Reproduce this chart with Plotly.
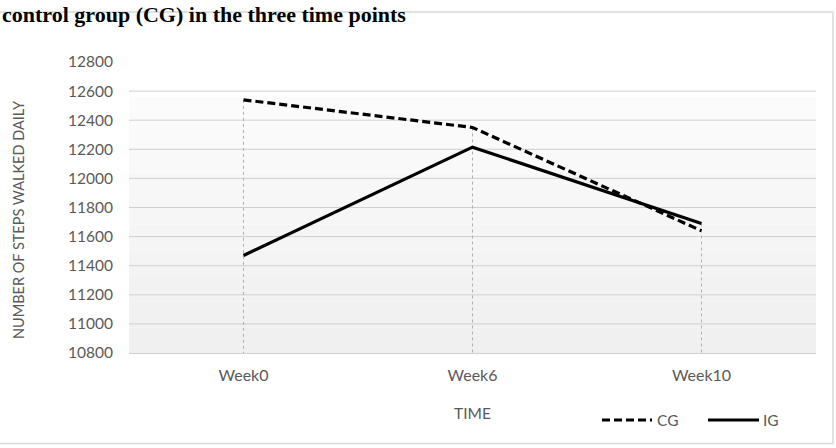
import plotly.graph_objects as go

# ---- data ----
CATEGORIES = ["Week0", "Week6", "Week10"]
CG_VALUES = [12540, 12350, 11640]
IG_VALUES = [11470, 12215, 11690]
Y_TICKS = [10800, 11000, 11200, 11400, 11600, 11800, 12000, 12200, 12400, 12600, 12800]
Y_TICK_LABELS = [str(v) for v in Y_TICKS]
SERIES_NAMES = ["CG", "IG"]
TITLE_TEXT = "control group (CG) in the three time points"
Y_TITLE = "NUMBER OF STEPS WALKED DAILY"
X_TITLE = "TIME"

# plot area geometry (px)
W, H = 836, 448
L, R, T, B = 129, 20, 62, 95
PW, PH = W - L - R, H - T - B

def px_x(x):
    return (x - L) / PW

def px_y(y):
    return (H - B - y) / PH

FONT = "Lato"
GRAY = "#595959"

fig = go.Figure()

# drop lines from highest point of each category to axis
dx, dy = [], []
for c, a, b in zip(CATEGORIES, CG_VALUES, IG_VALUES):
    dx += [c, c, None]
    dy += [max(a, b), Y_TICKS[0], None]
fig.add_trace(go.Scatter(x=dx, y=dy, mode="lines", showlegend=False, hoverinfo="skip",
                         line=dict(color="#b0b0b0", width=1, dash="dot")))

fig.add_trace(go.Scatter(x=CATEGORIES, y=CG_VALUES, mode="lines", name=SERIES_NAMES[0],
                         line=dict(color="black", width=3.2, dash="8px,4px"), showlegend=False))
fig.add_trace(go.Scatter(x=CATEGORIES, y=IG_VALUES, mode="lines", name=SERIES_NAMES[1],
                         line=dict(color="black", width=3.2), showlegend=False))

shapes = []
# gradient background bands
top = px_y(96.7)
n = 10
c_top, c_bot = 252, 239
for i in range(n):
    y0 = top * i / n
    y1 = top * (i + 1) / n
    v = int(round(c_bot + (c_top - c_bot) * (i + 0.5) / n))
    shapes.append(dict(type="rect", xref="paper", yref="paper", x0=0, x1=1, y0=y0, y1=y1,
                       fillcolor=f"rgb({v},{v},{v})", line=dict(width=0), layer="below"))
# gridlines
for v in Y_TICKS[1:-1]:
    shapes.append(dict(type="line", xref="paper", yref="y", x0=0, x1=1, y0=v, y1=v,
                       line=dict(color="#cfcfcf", width=1), layer="below"))
# chart frame
shapes.append(dict(type="rect", xref="paper", yref="paper",
                   x0=px_x(-2), x1=px_x(833), y0=px_y(443.5), y1=px_y(12),
                   line=dict(color="#d9d9d9", width=1.5), fillcolor="rgba(0,0,0,0)", layer="below"))
# custom legend lines
legend_y = px_y(420)
shapes.append(dict(type="line", xref="paper", yref="paper", x0=px_x(602), x1=px_x(652),
                   y0=legend_y, y1=legend_y, line=dict(color="black", width=3.2, dash="8px,4px")))
shapes.append(dict(type="line", xref="paper", yref="paper", x0=px_x(708), x1=px_x(759),
                   y0=legend_y, y1=legend_y, line=dict(color="black", width=3.2)))

annotations = [
    dict(text=f"<b>{TITLE_TEXT}</b>", xref="paper", yref="paper", x=px_x(1), y=px_y(0.5),
         xanchor="left", yanchor="top", showarrow=False, borderpad=0,
         font=dict(family="Liberation Serif", size=22, color="black")),
    dict(text=Y_TITLE, xref="paper", yref="paper", x=px_x(18), y=px_y(220), textangle=-90,
         xanchor="center", yanchor="middle", showarrow=False,
         font=dict(family=FONT, size=14.5, color=GRAY)),
    dict(text=X_TITLE, xref="paper", yref="paper", x=px_x(472), y=px_y(413),
         xanchor="center", yanchor="middle", showarrow=False,
         font=dict(family=FONT, size=15.5, color=GRAY)),
    dict(text=SERIES_NAMES[0], xref="paper", yref="paper", x=px_x(655), y=legend_y,
         xanchor="left", yanchor="middle", showarrow=False,
         font=dict(family=FONT, size=15.5, color=GRAY)),
    dict(text=SERIES_NAMES[1], xref="paper", yref="paper", x=px_x(761), y=legend_y,
         xanchor="left", yanchor="middle", showarrow=False,
         font=dict(family=FONT, size=15.5, color=GRAY)),
]

fig.update_layout(
    width=W, height=H,
    margin=dict(l=L, r=R, t=T, b=B),
    paper_bgcolor="white", plot_bgcolor="white",
    shapes=shapes, annotations=annotations,
    showlegend=False,
    xaxis=dict(type="category", categoryorder="array", categoryarray=CATEGORIES,
               range=[-0.5, len(CATEGORIES) - 0.5],
               showgrid=False, showline=True, linecolor="#d0d0d0", linewidth=1,
               ticks="", ticklabelstandoff=8, zeroline=False,
               tickfont=dict(family=FONT, size=16, color=GRAY)),
    yaxis=dict(range=[Y_TICKS[0], Y_TICKS[-1]], tickmode="array",
               tickvals=Y_TICKS, ticktext=Y_TICK_LABELS,
               showgrid=False, zeroline=False, showline=False, ticks="",
               ticklabelstandoff=15,
               tickfont=dict(family=FONT, size=15.5, color=GRAY)),
)

fig.write_html("out.html")
